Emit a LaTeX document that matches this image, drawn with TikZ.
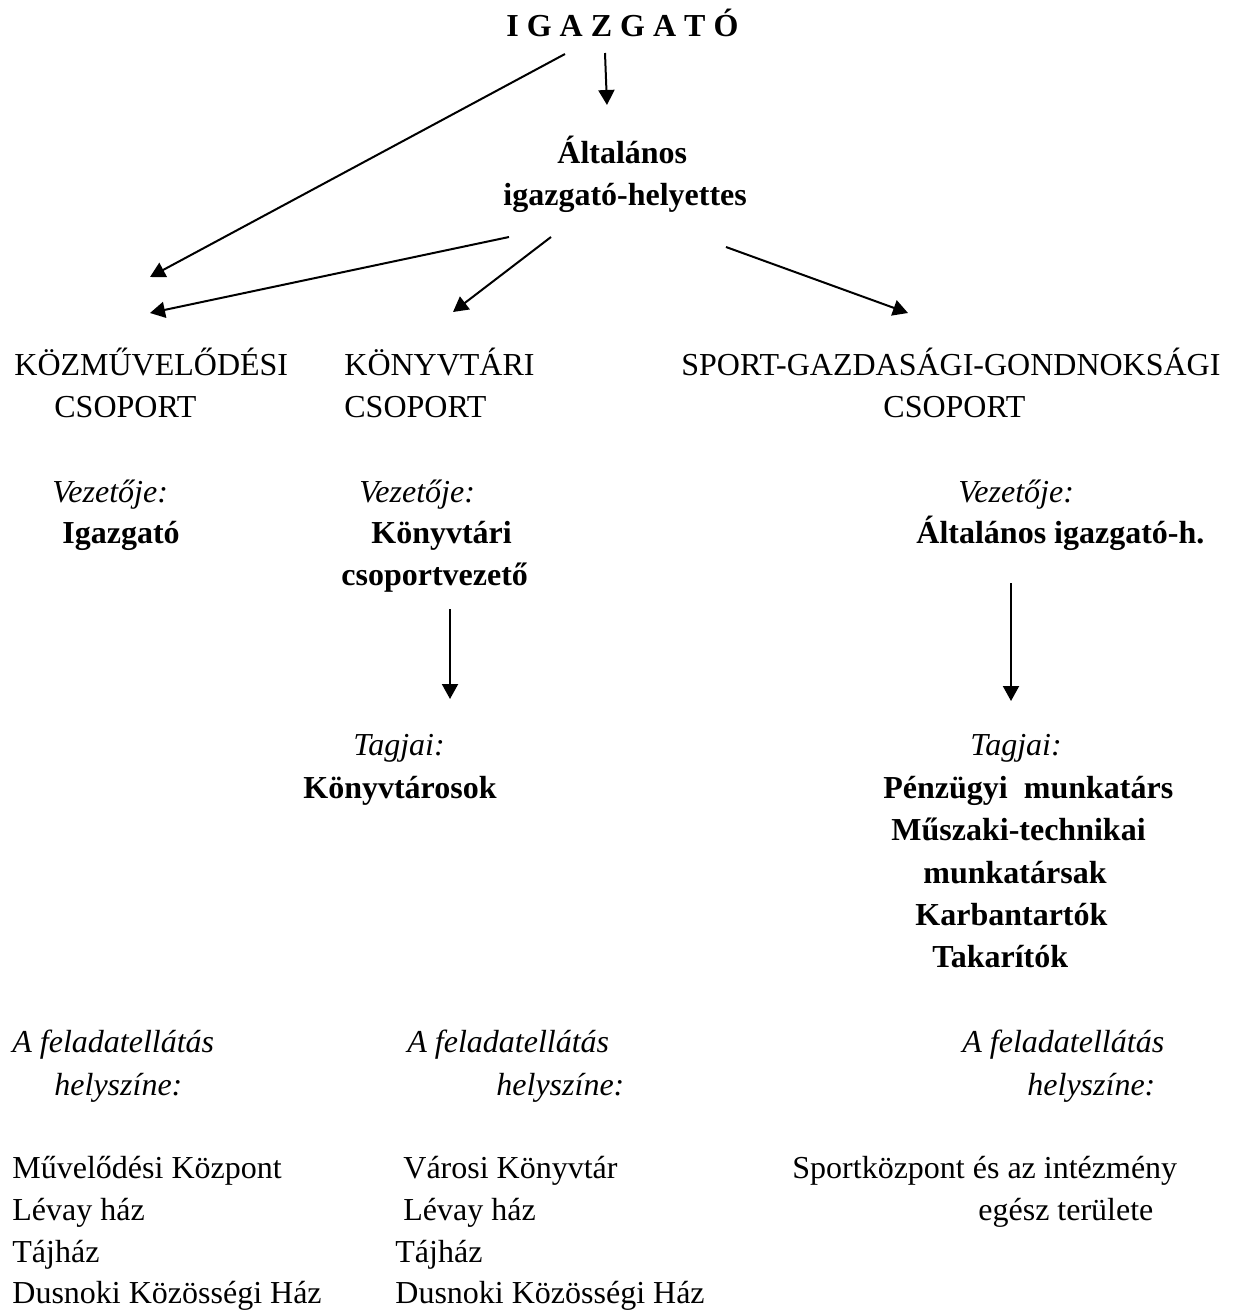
\documentclass[tikz,border=0pt]{standalone}
\usepackage{fontspec}
\setmainfont{Liberation Serif}
\usetikzlibrary{arrows.meta}
\begin{document}
\begin{tikzpicture}[x=0.5pt,y=-0.5pt,
  txt/.style={inner sep=0pt, anchor=base west, font=\fontsize{16}{21}\selectfont},
  bt/.style={txt, font=\fontsize{16}{21}\selectfont\bfseries},
  it/.style={txt, font=\fontsize{16}{21}\selectfont\itshape},
  conn/.style={line width=1pt, -{Triangle[length=7.5pt,width=8pt]}}]
\useasboundingbox (0,0) rectangle (1232,1312);
% top
\node[bt] (title) at (506,36) {I G A Z G A T Ó};
\node[bt] (alt1) at (557,163) {Általános};
\node[bt] (alt2) at (503,205) {igazgató-helyettes};
% groups
\node[txt] (kozm1) at (14,375) {KÖZMŰVELŐDÉSI};
\node[txt] (kozm2) at (54,417) {CSOPORT};
\node[txt] (konyv1) at (344,375) {KÖNYVTÁRI};
\node[txt] (konyv2) at (344,417) {CSOPORT};
\node[txt] (sport1) at (681,375) {SPORT-GAZDASÁGI-GONDNOKSÁGI};
\node[txt] (sport2) at (883,417) {CSOPORT};
% leaders
\node[it] (vez1) at (52,502) {Vezetője:};
\node[bt] (igaz) at (62,543) {Igazgató};
\node[it] (vez2) at (359,502) {Vezetője:};
\node[bt] (kt1) at (371,543) {Könyvtári};
\node[bt] (kt2) at (341,585) {csoportvezető};
\node[it] (vez3) at (958,502) {Vezetője:};
\node[bt] (ai) at (916,543) {Általános igazgató-h.};
% members
\node[it] (tag2) at (353,755) {Tagjai:};
\node[bt] (ktar) at (303,798) {Könyvtárosok};
\node[it] (tag3) at (970,755) {Tagjai:};
\node[bt] (p1) at (883,798) {Pénzügyi\ \ munkatárs};
\node[bt] (p2) at (891,840) {Műszaki-technikai};
\node[bt] (p3) at (923,883) {munkatársak};
\node[bt] (p4) at (915,925) {Karbantartók};
\node[bt] (p5) at (932,967) {Takarítók};
% places
\node[it] (fel1a) at (12,1052) {A feladatellátás};
\node[it] (fel1b) at (54,1095) {helyszíne:};
\node[it] (fel2a) at (407,1052) {A feladatellátás};
\node[it] (fel2b) at (496,1095) {helyszíne:};
\node[it] (fel3a) at (962,1052) {A feladatellátás};
\node[it] (fel3b) at (1027,1095) {helyszíne:};
\node[txt] (h1a) at (12,1178) {Művelődési Központ};
\node[txt] (h1b) at (12,1220) {Lévay ház};
\node[txt] (h1c) at (12,1262) {Tájház};
\node[txt] (h1d) at (12,1303) {Dusnoki Közösségi Ház};
\node[txt] (h2a) at (403,1178) {Városi Könyvtár};
\node[txt] (h2b) at (403,1220) {Lévay ház};
\node[txt] (h2c) at (395,1262) {Tájház};
\node[txt] (h2d) at (395,1303) {Dusnoki Közösségi Ház};
\node[txt] (h3a) at (792,1178) {Sportközpont és az intézmény};
\node[txt] (h3b) at (978,1220) {egész területe};
% connector end points
\coordinate (a0s) at (605,53);  \coordinate (a0e) at (607,105);
\coordinate (a1s) at (565,54);  \coordinate (a1e) at (150,277);
\coordinate (a2s) at (509,237); \coordinate (a2e) at (150,313);
\coordinate (a3s) at (551,237); \coordinate (a3e) at (453,312);
\coordinate (a4s) at (726,247); \coordinate (a4e) at (908,313);
\coordinate (a5s) at (450,609); \coordinate (a5e) at (450,699);
\coordinate (a6s) at (1011,583); \coordinate (a6e) at (1011,701);
\draw[conn] (a0s) -- (a0e);
\draw[conn] (a1s) -- (a1e);
\draw[conn] (a2s) -- (a2e);
\draw[conn] (a3s) -- (a3e);
\draw[conn] (a4s) -- (a4e);
\draw[conn] (a5s) -- (a5e);
\draw[conn] (a6s) -- (a6e);
\end{tikzpicture}
\end{document}
